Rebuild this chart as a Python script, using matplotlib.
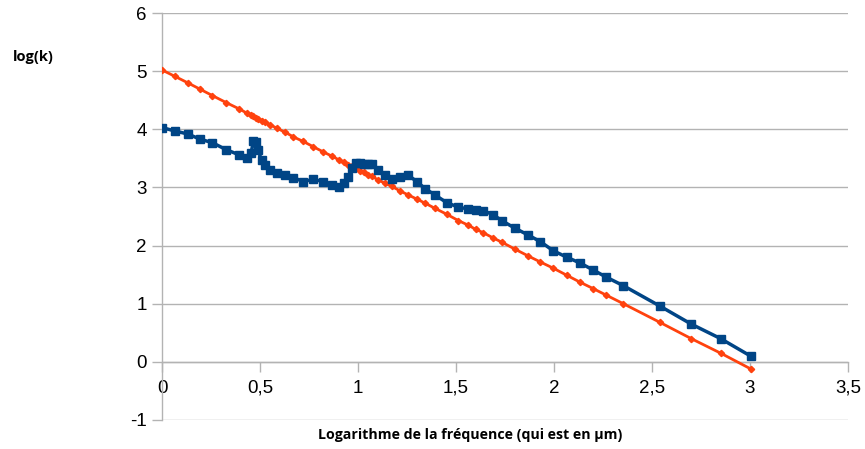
import matplotlib
matplotlib.use("Agg")
import matplotlib.pyplot as plt

plt.rcParams["axes.unicode_minus"] = False

# Data
x_vals = [0.000, 0.066, 0.131, 0.194, 0.257, 0.327, 0.394, 0.432, 0.455, 0.466,
          0.480, 0.490, 0.508, 0.526, 0.551, 0.585, 0.628, 0.670, 0.721, 0.772,
          0.823, 0.866, 0.905, 0.929, 0.951, 0.968, 0.990, 1.010, 1.030, 1.050,
          1.070, 1.104, 1.138, 1.172, 1.214, 1.257, 1.300, 1.342, 1.393, 1.452,
          1.512, 1.563, 1.600, 1.640, 1.690, 1.733, 1.800, 1.869, 1.929, 1.997,
          2.065, 2.133, 2.200, 2.265, 2.354, 2.540, 2.700, 2.850, 3.003]

blue_vals = [4.03, 3.97, 3.92, 3.83, 3.77, 3.65, 3.56, 3.50, 3.60, 3.79,
             3.78, 3.64, 3.47, 3.38, 3.30, 3.25, 3.21, 3.17, 3.10, 3.14,
             3.10, 3.04, 3.00, 3.07, 3.18, 3.33, 3.42, 3.42, 3.41, 3.40,
             3.40, 3.30, 3.21, 3.14, 3.18, 3.21, 3.10, 2.98, 2.87, 2.74,
             2.66, 2.63, 2.62, 2.60, 2.53, 2.43, 2.30, 2.18, 2.07, 1.91,
             1.80, 1.70, 1.58, 1.46, 1.31, 0.96, 0.65, 0.40, 0.10]

orange_vals = [5.02, 4.91, 4.80, 4.69, 4.58, 4.46, 4.35, 4.28, 4.24, 4.22,
               4.20, 4.18, 4.15, 4.12, 4.08, 4.02, 3.95, 3.87, 3.79, 3.70,
               3.61, 3.54, 3.47, 3.43, 3.39, 3.36, 3.33, 3.29, 3.26, 3.22,
               3.19, 3.13, 3.07, 3.02, 2.94, 2.87, 2.80, 2.73, 2.64, 2.54,
               2.43, 2.35, 2.28, 2.22, 2.13, 2.06, 1.94, 1.82, 1.72, 1.61,
               1.49, 1.37, 1.26, 1.15, 1.00, 0.68, 0.40, 0.15, -0.12]

x_ticks = [0, 0.5, 1, 1.5, 2, 2.5, 3, 3.5]
x_tick_labels = ["0", "0,5", "1", "1,5", "2", "2,5", "3", "3,5"]
y_ticks = [-1, 0, 1, 2, 3, 4, 5, 6]

x_label = "Logarithme de la fréquence (qui est en µm)"
y_label = "log(k)"

grid_c = "#b3b3b3"

fig = plt.figure(figsize=(8.65, 4.49), dpi=100)
ax = fig.add_axes([162/865, 1 - 420/449, (848 - 162)/865, (420 - 13)/449])

ax.plot(x_vals, orange_vals, color="#ff420e", lw=2.0, marker="D", ms=3.2,
        mec="#ff420e", mfc="#ff420e", zorder=3)
ax.plot(x_vals, blue_vals, color="#004586", lw=2.5, marker="s", ms=5.8,
        mec="#004586", mfc="#004586", zorder=4)

ax.set_xlim(0, 3.5)
ax.set_ylim(-1, 6)
ax.set_xticks(x_ticks)
ax.set_xticklabels(x_tick_labels)
ax.set_yticks(y_ticks)

ax.yaxis.grid(True, color=grid_c, lw=1.0)
ax.set_axisbelow(True)

for s in ["top", "right"]:
    ax.spines[s].set_visible(False)
ax.spines["bottom"].set_position(("data", 0))
ax.spines["left"].set_color(grid_c)
ax.spines["bottom"].set_color(grid_c)
ax.spines["left"].set_linewidth(1.0)
ax.spines["bottom"].set_linewidth(1.0)

ax.tick_params(axis="both", colors=grid_c, length=7, width=1.0,
               labelcolor="black", labelsize=13.5, pad=4)
ax.tick_params(axis="x", pad=6)
for lab in ax.get_xticklabels() + ax.get_yticklabels():
    lab.set_family("Liberation Sans")

fig.text(33/865, 1 - 57/449, y_label, fontsize=10.5, fontweight="bold",
         family="Open Sans", ha="center", va="center")
fig.text(470/865, 1 - 435/449, x_label, fontsize=10.2, fontweight="bold",
         family="Open Sans", ha="center", va="center")

fig.savefig("out.png", dpi=100)
